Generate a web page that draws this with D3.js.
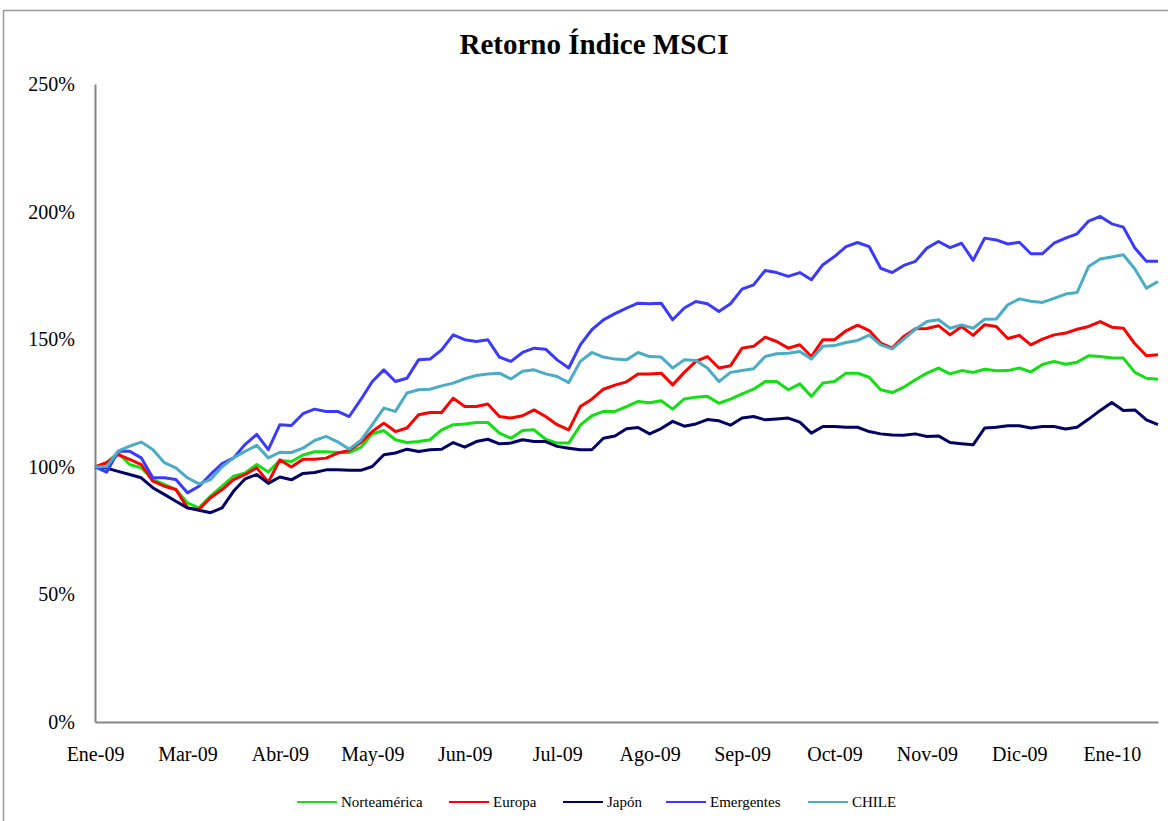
<!DOCTYPE html>
<html>
<head>
<meta charset="utf-8">
<script src="https://cdn.jsdelivr.net/npm/d3@7.9.0/dist/d3.min.js"></script>
<style>
  html, body { margin: 0; padding: 0; background: #fff; }
  svg text { font-family: "Liberation Serif", "Times New Roman", serif; fill: #000; }
</style>
</head>
<body>
<div id="chart"></div>
<script>
const width = 1168;
const height = 821;

const tickLabels = ['Ene-09', 'Mar-09', 'Abr-09', 'May-09', 'Jun-09', 'Jul-09',
  'Ago-09', 'Sep-09', 'Oct-09', 'Nov-09', 'Dic-09', 'Ene-10'];
const tickEvery = 8;

const norteamerica = [100, 101.6, 105.5, 100.9, 99.6, 95.0, 93.1, 91.1, 85.9, 83.9,
  88.5, 92.4, 96.3, 97.6, 100.9, 98, 102.5, 102.1, 104.6, 105.9,
  105.9, 105.6, 105.6, 107.6, 112.9, 114.2, 110.6, 109.5, 109.9, 110.6,
  114.5, 116.5, 116.8, 117.4, 117.4, 113.2, 111.2, 114.2, 114.5, 110.8,
  109.3, 109.3, 116.3, 120.0, 121.7, 121.7, 123.6, 125.6, 125.1, 125.9,
  122.6, 126.6, 127.3, 127.6, 124.9, 126.5, 128.6, 130.4, 133.4, 133.4,
  130.2, 132.5, 127.6, 132.8, 133.4, 136.7, 136.7, 135.1, 130.2, 129.1,
  131.2, 134.1, 136.7, 138.7, 136.4, 137.7, 137.0, 138.2, 137.6, 137.7,
  138.7, 137.2, 140.1, 141.3, 140.2, 141.0, 143.5, 143.2, 142.6, 142.6,
  137.0, 134.7, 134.3];

const europa = [100, 101.6, 104.8, 102.9, 100.9, 94.4, 92.4, 91.1, 83.9, 83.3,
  87.9, 91.1, 95.0, 97.0, 99.6, 94, 102.7, 99.9, 103.0, 103.0,
  103.4, 105.4, 106.4, 109.5, 113.8, 117.1, 113.8, 115.2, 120.4, 121.3,
  121.3, 126.9, 123.6, 123.6, 124.6, 119.7, 119.1, 120.0, 122.3, 119.7,
  116.5, 114.5, 123.6, 126.5, 130.4, 132.0, 133.3, 136.4, 136.4, 136.7,
  132.1, 137.0, 141.3, 143.2, 138.7, 139.6, 146.5, 147.2, 150.8, 149.1,
  146.5, 147.8, 143.2, 149.8, 149.8, 153.3, 155.5, 153.4, 148.5, 146.5,
  151.1, 154.1, 154.2, 155.3, 151.7, 155.0, 151.5, 155.7, 155.0, 150.3,
  151.5, 147.8, 150.0, 151.7, 152.4, 153.9, 155.0, 156.9, 154.7, 154.3,
  148.2, 143.5, 143.9];

const japon = [100, 99.5, 98.2, 97.0, 95.7, 91.8, 89.2, 86.5, 83.9, 83.0,
  82.0, 83.9, 90.5, 95.3, 97.0, 93.5, 96.0, 94.9, 97.4, 97.8,
  98.8, 98.8, 98.6, 98.6, 100.1, 104.7, 105.4, 106.9, 106.0, 106.7,
  106.9, 109.5, 107.7, 109.9, 110.8, 109.0, 109.3, 110.6, 109.9, 109.9,
  108.0, 107.3, 106.7, 106.7, 111.2, 112.1, 114.9, 115.4, 112.9, 115.0,
  117.8, 115.9, 116.8, 118.5, 118.0, 116.3, 119.1, 119.7, 118.4, 118.7,
  119.1, 117.5, 113.2, 115.8, 115.8, 115.5, 115.5, 113.8, 112.9, 112.5,
  112.4, 112.9, 111.9, 112.1, 109.5, 109.0, 108.6, 115.2, 115.5, 116.1,
  116.1, 115.2, 115.8, 115.8, 114.8, 115.5, 118.7, 122.1, 125.2, 122.1,
  122.3, 118.4, 116.5];

const emergentes = [100, 97.9, 106.1, 106.1, 103.5, 95.7, 95.7, 95.0, 89.8, 92.4,
  97.0, 101.3, 103.5, 108.8, 112.7, 106.7, 116.5, 116.2, 120.8, 122.6,
  121.7, 121.7, 119.7, 126.3, 133.4, 138.0, 133.4, 134.7, 141.9, 142.2,
  145.8, 151.7, 149.8, 149.1, 149.8, 143.0, 141.3, 144.8, 146.5, 146.1,
  141.9, 138.7, 147.8, 153.7, 157.6, 160.0, 162.2, 164.1, 163.9, 164.1,
  157.6, 162.2, 164.8, 163.9, 160.9, 163.9, 169.6, 171.3, 176.9, 176.1,
  174.6, 176.1, 173.3, 179.2, 182.4, 186.3, 187.9, 186.3, 177.8, 176.1,
  178.9, 180.5, 185.7, 188.3, 185.9, 187.6, 180.9, 189.6, 188.9, 187.3,
  188.0, 183.5, 183.5, 187.6, 189.6, 191.3, 196.3, 198.1, 195.2, 193.9,
  185.7, 180.5, 180.5];

const chile = [100, 100, 106.1, 108.1, 109.7, 106.8, 101.6, 99.6, 95.7, 93.3,
  95.0, 100, 103.5, 106.1, 108.4, 103.5, 105.7, 105.6, 107.3, 110.3,
  111.9, 109.8, 106.9, 110.3, 116.5, 123.0, 121.7, 128.9, 130.2, 130.4,
  131.7, 132.8, 134.5, 135.8, 136.4, 136.7, 134.4, 137.4, 138.0, 136.4,
  135.4, 133.0, 141.3, 144.8, 143.0, 142.2, 141.9, 144.8, 143.2, 143.0,
  138.7, 141.9, 141.7, 138.7, 133.4, 137.0, 137.7, 138.4, 143.2, 144.3,
  144.5, 145.2, 142.2, 147.2, 147.5, 148.7, 149.5, 151.6, 147.8, 146.2,
  150.0, 153.9, 156.9, 157.6, 154.3, 155.6, 154.3, 157.8, 157.9, 163.5,
  165.8, 164.9, 164.4, 166.0, 167.7, 168.3, 178.5, 181.4, 182.2, 183.1,
  177.5, 170.0, 172.6];

const seriesNames = ['Norteamérica', 'Europa', 'Japón', 'Emergentes', 'CHILE'];
const seriesValues = [norteamerica, europa, japon, emergentes, chile];
const seriesColors = ['#13e013', '#ff0000', '#000066', '#3a3aff', '#4bacc6'];

const yTicks = [0, 50, 100, 150, 200, 250];

const plot = { left: 95, right: 1158, top: 84, bottom: 722 };

const svg = d3.select('#chart').append('svg')
  .attr('width', width)
  .attr('height', height);

svg.append('rect')
  .attr('width', width).attr('height', height)
  .attr('fill', '#fff');

// outer frame (right and bottom fall outside the picture)
svg.append('rect')
  .attr('x', 3.5).attr('y', 10.5)
  .attr('width', width + 10).attr('height', height + 10)
  .attr('fill', 'none')
  .attr('stroke', '#9a9a9a')
  .attr('stroke-width', 1.5);

svg.append('text')
  .attr('x', 594).attr('y', 54)
  .attr('text-anchor', 'middle')
  .style('font-size', '29px')
  .style('font-weight', 'bold')
  .text('Retorno Índice MSCI');

const x = d3.scaleLinear()
  .domain([0, norteamerica.length - 1])
  .range([plot.left, plot.right]);

const y = d3.scaleLinear()
  .domain([0, 250])
  .range([plot.bottom, plot.top]);

// y axis
const yAxis = svg.append('g')
  .attr('transform', `translate(${plot.left},0)`)
  .call(d3.axisLeft(y).tickValues(yTicks).tickSize(0).tickPadding(20)
    .tickFormat(d => d + '%'));
yAxis.select('.domain').attr('stroke', '#868686').attr('stroke-width', 2);
yAxis.selectAll('text').style('font-size', '20px').attr('font-family', null);

// x axis
const xAxis = svg.append('g')
  .attr('transform', `translate(0,${plot.bottom})`)
  .call(d3.axisBottom(x)
    .tickValues(tickLabels.map((_, i) => i * tickEvery))
    .tickSize(0).tickPadding(25)
    .tickFormat((d, i) => tickLabels[i]));
xAxis.select('.domain').attr('stroke', '#868686').attr('stroke-width', 2);
xAxis.selectAll('text').style('font-size', '20px').attr('font-family', null);

const line = d3.line()
  .x((d, i) => x(i))
  .y(d => y(d));

svg.append('g')
  .selectAll('path')
  .data(seriesValues)
  .join('path')
  .attr('d', line)
  .attr('fill', 'none')
  .attr('stroke', (d, i) => seriesColors[i])
  .attr('stroke-width', 3)
  .attr('stroke-linejoin', 'round');

// legend
const legendX = [297, 449, 563, 666, 808];
const legend = svg.append('g')
  .selectAll('g')
  .data(seriesNames)
  .join('g')
  .attr('transform', (d, i) => `translate(${legendX[i]},802)`);

legend.append('line')
  .attr('x1', 0).attr('x2', 40)
  .attr('stroke', (d, i) => seriesColors[i])
  .attr('stroke-width', 2);

legend.append('text')
  .attr('x', 44).attr('dy', '0.35em')
  .style('font-size', '15px')
  .text(d => d);
</script>
</body>
</html>
